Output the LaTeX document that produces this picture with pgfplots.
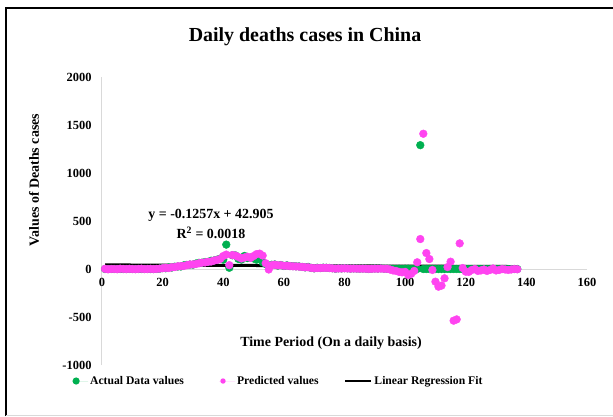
\documentclass[border=0pt]{standalone}
\usepackage{fontspec}
\setmainfont{Liberation Serif}
\usepackage{pgfplots}
\pgfplotsset{compat=1.18}
\definecolor{actgreen}{HTML}{00B050}
\definecolor{predmag}{HTML}{FF44F0}
\definecolor{axgray}{HTML}{D9D9D9}
\begin{document}
\begin{tikzpicture}[x=1bp,y=1bp]
\path[use as bounding box] (-102,-51) rectangle (511,365);
\draw[line width=2bp] (-96,-51) -- (-96,357) -- (511,357);
\draw[axgray, line width=1bp] (-96,-50) -- (511,-50);
\begin{axis}[
  at={(0,0)}, anchor=south west,
  scale only axis, width=485bp, height=288bp,
  xmin=0, xmax=160, ymin=-1000, ymax=2000,
  axis x line=middle, axis y line=left,
  hide obscured x ticks=false, hide obscured y ticks=false,
  axis line style={axgray, line width=1bp, -},
  xtick={0,20,...,160}, ytick={-1000,-500,0,500,1000,1500,2000},
  major tick length=0pt,
  /pgf/number format/assume math mode=true,
  /pgf/number format/1000 sep={},
  ticklabel style={font=\bfseries\fontsize{12.5}{14}\selectfont},
  xticklabel style={yshift=-6bp},
  yticklabel style={xshift=-7bp},
  title={Daily deaths cases in China},
  xlabel={Time Period (On a daily basis)},
  ylabel={Values of Deaths cases},
  every axis title/.style={at={(axis description cs:0.4186,1.139)}, anchor=center, font=\bfseries\fontsize{20}{24}\selectfont},
  every axis x label/.style={at={(axis description cs:0.4722,0.0764)}, anchor=center, font=\bfseries\fontsize{14}{16}\selectfont},
  every axis y label/.style={at={(axis description cs:-0.140,0.642)}, anchor=center, rotate=90, font=\bfseries\fontsize{14}{16}\selectfont},
  legend columns=3,
  legend style={at={(axis description cs:-0.062,-0.0556)}, anchor=west, draw=none, fill=none,
    font=\bfseries\fontsize{11.7}{13}\selectfont, inner sep=0pt,
    /tikz/column 2/.style={column sep=33bp},
    /tikz/column 4/.style={column sep=23bp}},
  clip=false,
]
\addplot[only marks, mark=*, mark size=3.9bp, actgreen, draw=none, fill=actgreen,
  legend image code/.code={\fill[actgreen] (0bp,0bp) circle (3.6bp); \path (-4bp,0bp) -- (12bp,0bp);}]
coordinates {
(1,0)(2,0)(3,0)(4,0)(5,0)(6,0)(7,0)(8,0)(9,1)(10,0)(11,0)(12,0)(13,0)(14,0)(15,1)(16,0)(17,0)(18,1)(19,3)
(20,11)(21,8)(22,16)(23,15)(24,24)(25,26)(26,26)(27,38)(28,43)(29,46)(30,45)(31,57)(32,64)(33,65)(34,73)(35,73)
(36,86)(37,89)(38,97)(39,108)(40,97)(41,254)(42,13)(43,143)(44,142)(45,105)(46,98)(47,136)(48,114)(49,118)(50,109)
(51,97)(52,150)(53,71)(54,52)(55,29)(56,44)(57,47)(58,35)(59,42)(60,31)(61,38)(62,31)(63,30)(64,28)(65,27)
(66,22)(67,17)(68,22)(69,11)(70,7)(71,13)(72,10)(73,14)(74,13)(75,11)(76,8)(77,3)(78,7)(79,6)(80,9)
(81,7)(82,4)(83,6)(84,5)(85,3)(86,5)(87,4)(88,1)(89,3)(90,6)(91,4)(92,7)(93,3)(94,3)(95,2)
(96,2)(97,1)(98,2)(99,1)(100,3)(101,3)(102,1)(103,0)(104,1)(105,1290)(106,0)(107,0)(108,0)(109,1)(110,0)
(111,0)(112,0)(113,0)(114,1)(115,0)(116,0)(117,0)(118,0)(119,0)(120,0)(121,0)(122,0)(123,0)(124,0)(125,0)
(126,0)(127,0)(128,0)(129,0)(130,0)(131,0)(132,0)(133,0)(134,0)(135,0)(136,0)(137,0)
};
\addlegendentry{Actual Data values}
\addplot[only marks, mark=*, mark size=3.9bp, predmag, draw=none, fill=predmag,
  legend image code/.code={\fill[predmag] (0bp,0bp) circle (2.7bp); \path (-4bp,0bp) -- (12bp,0bp);}]
coordinates {
(1,2)(2,-3)(3,1)(4,0)(5,-2)(6,3)(7,1)(8,-1)(9,2)(10,0)(11,-2)(12,1)(13,3)(14,-1)(15,0)(16,2)(17,-1)(18,1)(19,4)
(20,8)(21,12)(22,10)(23,18)(24,20)(25,28)(26,30)(27,32)(28,40)(29,47)(30,48)(31,52)(32,60)(33,66)(34,68)(35,75)
(36,78)(37,88)(38,95)(39,105)(40,135)(41,150)(42,40)(43,145)(44,140)(45,125)(46,110)(47,120)(48,128)(49,115)(50,135)
(51,155)(52,160)(53,140)(54,60)(55,-5)(56,40)(57,45)(58,38)(59,40)(60,33)(61,35)(62,30)(63,28)(64,27)(65,25)
(66,22)(67,18)(68,18)(69,12)(70,8)(71,10)(72,10)(73,12)(74,12)(75,10)(76,7)(77,4)(78,6)(79,6)(80,7)
(81,6)(82,4)(83,5)(84,4)(85,3)(86,4)(87,3)(88,1)(89,2)(90,4)(91,3)(92,5)(93,2)(94,2)(95,-5)
(96,-15)(97,-20)(98,-30)(99,-35)(100,-30)(101,-62)(102,-50)(103,-20)(104,70)(105,312)(106,1409)(107,166)(108,104)(109,-10)(110,-132)
(111,-184)(112,-173)(113,-97)(114,20)(115,76)(116,-538)(117,-525)(118,267)(119,10)(120,-28)(121,-30)(122,-10)(123,0)(124,-20)(125,-15)
(126,-5)(127,-20)(128,-10)(129,5)(130,-15)(131,-10)(132,0)(133,-5)(134,-10)(135,-5)(136,0)(137,-3)
};
\addlegendentry{Predicted values}
\addplot[black, line width=3bp, no marks,
  legend image code/.code={\draw[black, line width=2.8bp] (0bp,0bp) -- (26bp,0bp);}]
coordinates {(1,42.779)(137,25.684)};
\addlegendentry{Linear Regression Fit}
\node[font=\bfseries\fontsize{14}{16}\selectfont, inner sep=0pt] at (axis cs:35.95,562) {y = -0.1257x + 42.905};
\node[font=\bfseries\fontsize{14}{16}\selectfont, inner sep=0pt] at (axis cs:35.95,375) {R\textsuperscript{2} = 0.0018};
\end{axis}
\end{tikzpicture}
\end{document}
